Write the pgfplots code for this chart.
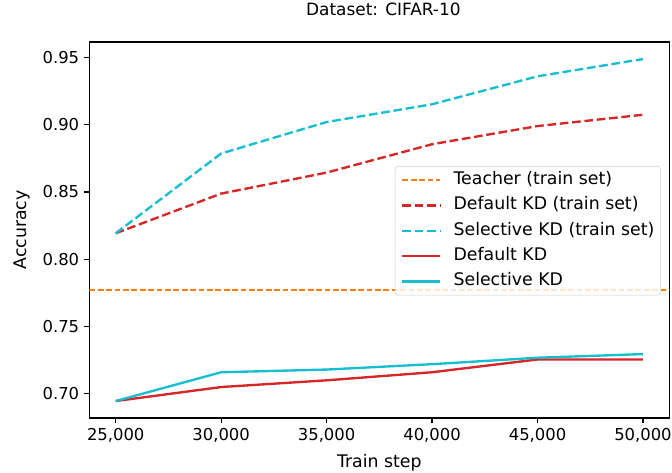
\documentclass[border=0pt]{standalone}
\usepackage{pgfplots}
\pgfplotsset{compat=1.18}
\usepackage{fontspec}
\setmainfont{DejaVu Sans}
\definecolor{tabred}{HTML}{D62728}
\definecolor{tabcyan}{HTML}{17BECF}
\definecolor{taborange}{HTML}{FF7F0E}
\pgfplotsset{
  mylegimg/.style={legend image code/.code={\draw[##1] (0pt,0pt) -- (28.5pt,0pt);}},
}
\begin{document}
\begin{tikzpicture}
\path[use as bounding box] (-67pt,-41.25pt) rectangle (437pt,313.5pt);
\begin{axis}[
  scale only axis,
  width=435pt, height=282pt,
  at={(0,0)}, anchor=south west,
  xmin=23750, xmax=51250,
  ymin=0.682, ymax=0.9615,
  xtick={25000,30000,35000,40000,45000,50000},
  ytick={0.70,0.75,0.80,0.85,0.90,0.95},
  scaled x ticks=false,
  scaled y ticks=false,
  xticklabel style={/pgf/number format/1000 sep={,}},
  yticklabel style={/pgf/number format/.cd,fixed,fixed zerofill,precision=2},
  /pgf/number format/assume math mode=true,
  tick label style={font=\fontsize{12.3}{14}\selectfont},
  tick align=outside,
  tick pos=left,
  major tick length=4.1pt,
  axis line style={line width=0.94pt},
  every tick/.style={line width=0.94pt, black},
  title={Dataset: CIFAR-10},
  title style={at={(axis description cs:0.507,1.0479)}, anchor=base, font=\fontsize{12.7}{14}\selectfont},
  xlabel={Train step},
  xlabel style={at={(axis description cs:0.5,-0.133)}, anchor=base, font=\fontsize{13}{15}\selectfont},
  ylabel={Accuracy},
  ylabel style={at={(axis description cs:-0.1161,0.5)}, anchor=center, font=\fontsize{13}{15}\selectfont},
  mylegimg,
  legend cell align=left,
  legend style={
    at={(axis description cs:1,0.5)}, anchor=east, xshift=-6.5pt, yshift=-0.6pt,
    draw=black!20, rounded corners=2pt, fill=white, fill opacity=0.8, text opacity=1,
    font=\fontsize{13}{15}\selectfont,
    inner xsep=4.5pt, inner ysep=3.9pt,
    row sep=6.55pt,
    nodes={inner sep=0pt, text height=9.5pt, text depth=3pt},
    /tikz/every odd column/.append style={column sep=9pt},
  },
]
\addplot[taborange, line width=1.18pt, dash pattern=on 4.4pt off 1.9pt] coordinates {(23750,0.777) (51250,0.777)};
\addlegendentry{Teacher (train set)}
\addplot[tabred, line width=1.77pt, dash pattern=on 6.5pt off 2.8pt] coordinates {
(25000,0.8193) (30000,0.8488) (35000,0.8644) (40000,0.8855) (45000,0.8990) (50000,0.9074)};
\addlegendentry{Default KD (train set)}
\addplot[tabcyan, line width=1.77pt, dash pattern=on 6.5pt off 2.8pt] coordinates {
(25000,0.8193) (30000,0.8786) (35000,0.9020) (40000,0.9152) (45000,0.9360) (50000,0.9488)};
\addlegendentry{Selective KD (train set)}
\addplot[tabred, line width=1.77pt] coordinates {
(25000,0.6946) (30000,0.7050) (35000,0.7100) (40000,0.7160) (45000,0.7255) (50000,0.7255)};
\addlegendentry{Default KD}
\addplot[tabcyan, line width=1.77pt] coordinates {
(25000,0.6946) (30000,0.7160) (35000,0.7180) (40000,0.7220) (45000,0.7268) (50000,0.7295)};
\addlegendentry{Selective KD}
\end{axis}
\end{tikzpicture}
\end{document}
